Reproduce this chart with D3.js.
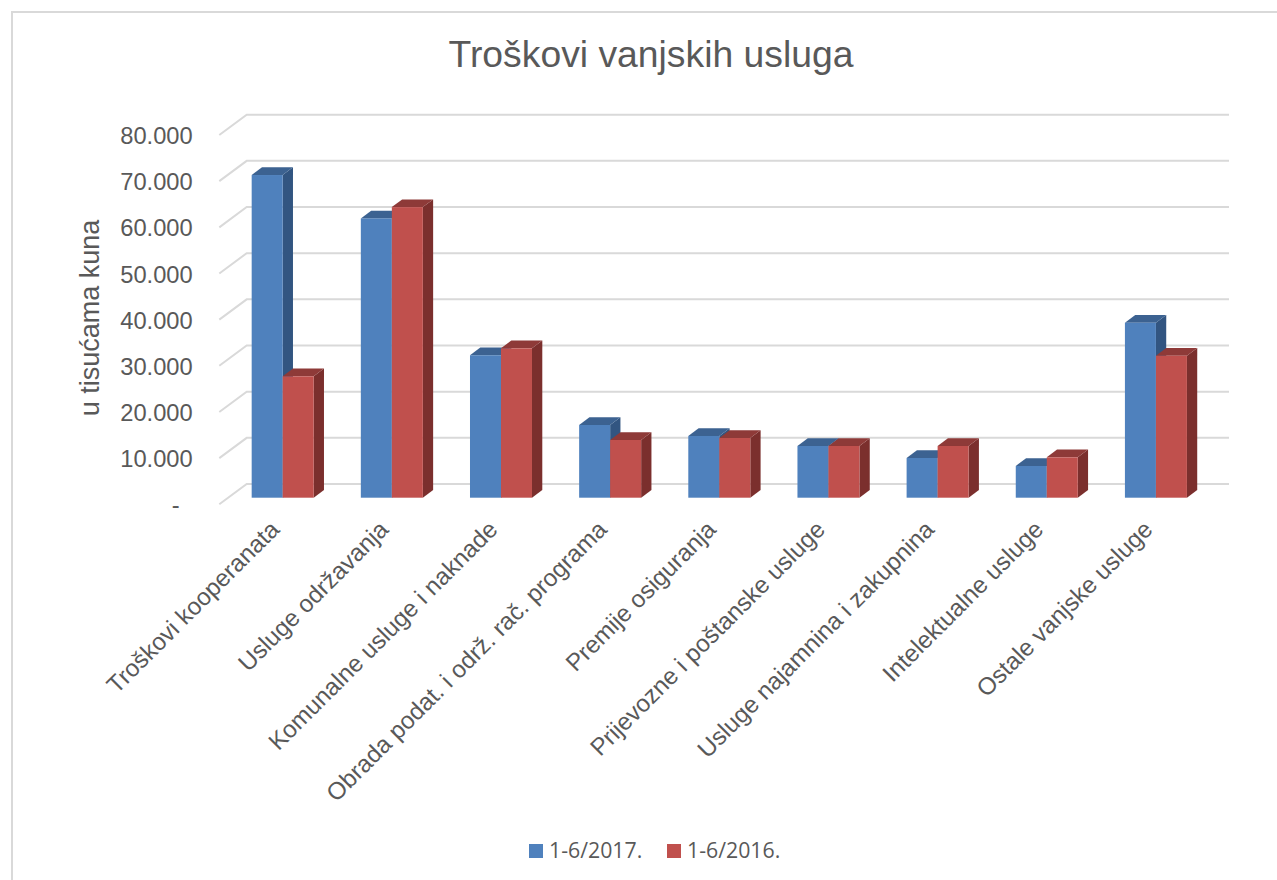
<!DOCTYPE html>
<html>
<head>
<meta charset="utf-8">
<script src="https://cdn.jsdelivr.net/npm/d3@7"></script>
<style>
html, body { margin: 0; padding: 0; background: #fff; }
svg { display: block; font-family: "Liberation Sans", Arial, sans-serif; }
</style>
</head>
<body>
<div id="chart"></div>
<script>
const categories = ["Troškovi kooperanata", "Usluge održavanja", "Komunalne usluge i naknade",
  "Obrada podat. i održ. rač. programa", "Premije osiguranja", "Prijevozne i poštanske usluge",
  "Usluge najamnina i zakupnina", "Intelektualne usluge", "Ostale vanjske usluge"];
const values2017 = [69900, 60500, 30860, 15750, 13370, 11200, 8600, 6870, 37900];
const values2016 = [26300, 62950, 32360, 12500, 12930, 11200, 11200, 8750, 30760];
const seriesNames = ["1-6/2017.", "1-6/2016."];
const tickValues = [0, 10000, 20000, 30000, 40000, 50000, 60000, 70000, 80000];
const tickLabels = ["-", "10.000", "20.000", "30.000", "40.000", "50.000", "60.000", "70.000", "80.000"];

const w = 1277, h = 880;
const colors = [
  { front: "#4f81bd", top: "#3c6291", side: "#325581" },
  { front: "#c0504d", top: "#8e3a38", side: "#7b2f2d" }
];

const svg = d3.select("#chart").append("svg")
  .attr("viewBox", [0, 0, w, h])
  .attr("width", w)
  .attr("height", h);

// chart frame
svg.append("path")
  .attr("d", "M12,880V12H1277")
  .attr("fill", "none")
  .attr("stroke", "#d9d9d9")
  .attr("stroke-width", 2);

svg.append("text")
  .attr("x", 651).attr("y", 67)
  .attr("text-anchor", "middle")
  .attr("font-size", 37.3)
  .attr("fill", "#595959")
  .text("Troškovi vanjskih usluga");

// y scale for the back wall, the bars use the same scale shifted to their own depth
const y = d3.scaleLinear().domain([0, 80000]).range([484, 114.7]);
const barBase = 497.7;
const yBar = v => barBase - (y(0) - y(v));
const x = d3.scaleBand().domain(categories).range([228.1, 1210.5]).paddingInner(0.432).paddingOuter(0.216);

// gridlines, with the slanted part on the side wall
const wallDx = 27.4, wallDy = 20.3;
svg.append("g").selectAll("path")
  .data(tickValues)
  .enter()
  .append("path")
  .attr("d", d => `M${246.7 - wallDx},${y(d) + wallDy}L246.7,${y(d)}H1229`)
  .attr("fill", "none")
  .attr("stroke", "#d9d9d9")
  .attr("stroke-width", 2);

// axis labels
svg.append("g").selectAll("text")
  .data(tickValues)
  .enter()
  .append("text")
  .attr("x", 192.7)
  .attr("y", d => y(d) + 29.4)
  .attr("text-anchor", d => d === 0 ? "middle" : "end")
  .attr("dx", d => d === 0 ? -17 : 0)
  .attr("font-size", 23.7)
  .attr("fill", "#595959")
  .text((d, i) => tickLabels[i]);

svg.append("text")
  .attr("transform", "translate(99,318) rotate(-90)")
  .attr("text-anchor", "middle")
  .attr("font-size", 27)
  .attr("fill", "#595959")
  .text("u tisućama kuna");

// 3d bars
const depthX = 10.3, depthY = 7.7;
const rows = [];
categories.forEach((c, i) => {
  rows.push({ c, s: 0, v: values2017[i] });
  rows.push({ c, s: 1, v: values2016[i] });
});
const barW = x.bandwidth() / 2;
const bars = svg.append("g").selectAll("g")
  .data(rows)
  .enter()
  .append("g");

bars.append("path") // side
  .attr("d", d => {
    const x1 = x(d.c) + barW * (d.s + 1), t = yBar(d.v);
    return `M${x1},${t}l${depthX},${-depthY}V${barBase - depthY}l${-depthX},${depthY}Z`;
  })
  .attr("fill", d => colors[d.s].side);

bars.append("path") // top
  .attr("d", d => {
    const x0 = x(d.c) + barW * d.s, t = yBar(d.v);
    return `M${x0},${t}l${depthX},${-depthY}h${barW}l${-depthX},${depthY}Z`;
  })
  .attr("fill", d => colors[d.s].top);

bars.append("rect") // front
  .attr("x", d => x(d.c) + barW * d.s)
  .attr("y", d => yBar(d.v))
  .attr("width", barW)
  .attr("height", d => barBase - yBar(d.v))
  .attr("fill", d => colors[d.s].front);

// category labels, rotated 45 degrees and ending under the bar group
svg.append("g").selectAll("text")
  .data(categories)
  .enter()
  .append("text")
  .attr("transform", d => `translate(${x(d) + x.bandwidth() / 2 - 2},531) rotate(-45)`)
  .attr("text-anchor", "end")
  .attr("font-size", 24.2)
  .attr("fill", "#595959")
  .text(d => d);

// legend
const legendX = [529, 667];
const legend = svg.append("g").selectAll("g")
  .data(seriesNames)
  .enter()
  .append("g")
  .attr("transform", (d, i) => `translate(${legendX[i]},844)`);
legend.append("rect")
  .attr("width", 14).attr("height", 14)
  .attr("fill", (d, i) => colors[i].front);
legend.append("text")
  .attr("x", 20).attr("y", 14)
  .attr("font-family", "'Open Sans', 'Noto Sans', sans-serif")
  .attr("font-size", 21.3)
  .attr("fill", "#595959")
  .text(d => d);
</script>
</body>
</html>
